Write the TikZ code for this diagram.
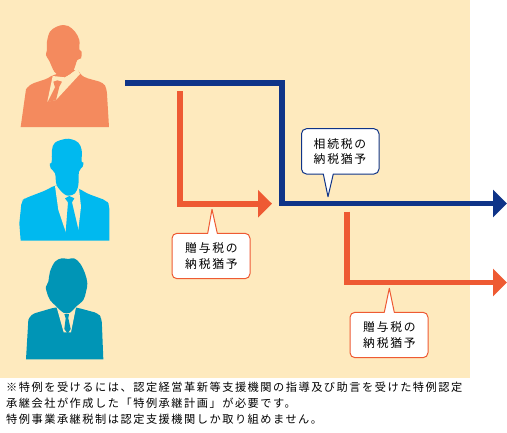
\documentclass[tikz,border=0pt]{standalone}
\usepackage{fontspec}
\usetikzlibrary{arrows.meta}
\setmainfont{Noto Sans CJK JP}
\newfontfamily\noteFont[LetterSpace=13.5]{Noto Sans CJK JP}
\newfontfamily\tagFont[LetterSpace=15]{Noto Sans CJK JP}
\definecolor{bgcream}{HTML}{FEEABE}
\definecolor{navyline}{HTML}{0F3488}
\definecolor{orangeline}{HTML}{EE5A33}
\definecolor{salmon}{HTML}{F48A5E}
\definecolor{skyblue}{HTML}{00B9EF}
\definecolor{tealblue}{HTML}{0095B6}
\definecolor{inktext}{HTML}{000000}
\tikzset{
  navyflow/.style={draw=navyline,line width=5.6pt,-{Triangle[width=27pt,length=14pt]}},
  orangeflow/.style={draw=orangeline,line width=5.6pt,-{Triangle[width=27pt,length=14pt]}},
  bubble/.style={fill=white,line width=1pt,line join=round},
  tagtext/.style={font=\fontsize{11.8}{15.5}\selectfont\tagFont,text=inktext,align=center,inner sep=0pt},
  notetext/.style={font=\fontsize{11.2}{13}\selectfont\noteFont,text=inktext,anchor=west,inner sep=0pt},
}
\begin{document}
\begin{tikzpicture}[x=1pt,y=-1pt]
\useasboundingbox (0,0) rectangle (507,432);
\fill[bgcream] (0,0) rectangle (470,378);
% person 1
\begin{scope}[scale=1/3]
\fill[salmon,rounded corners=4pt] (78,268) -- (90,253) -- (145,235) -- (158,225) -- (232,207) -- (240,222) -- (252,232) -- (310,248) -- (320,265) [sharp corners] -- (327,381) -- (62,381) -- cycle;
\fill[bgcream] (158,228) -- (142,305) -- (168,300) -- (240,222) -- (232,207) -- (195,232) -- cycle;
\fill[salmon] plot[smooth cycle,tension=.6] coordinates {(190,75) (170,80) (150,95) (141,125) (141,150) (138,165) (148,183) (163,215) (180,228) (200,228) (220,212) (232,180) (243,175) (245,155) (238,148) (238,120) (225,95) (205,78)};
\fill[salmon] (160,245) -- (172,241) -- (186,245) -- (178,260) -- (168,300) -- (143,306) -- (165,262) -- cycle;
\end{scope}
% person 2
\begin{scope}[shift={(0,130)},scale=1/3]
\fill[skyblue,rounded corners=4pt] (58,280) -- (65,212) -- (75,205) -- (140,180) -- (165,165) -- (237,175) -- (260,190) -- (320,212) -- (328,225) [sharp corners] -- (328,332) -- (62,332) -- cycle;
\fill[bgcream] (165,168) -- (175,240) -- (198,308) -- (235,300) -- (243,230) -- (237,175) -- cycle;
\fill[skyblue] plot[smooth cycle,tension=.6] coordinates {(195,27) (165,38) (156,60) (155,97) (150,100) (152,115) (165,130) (170,165) (190,190) (205,197) (225,190) (235,165) (237,125) (248,110) (250,97) (245,95) (245,60) (235,38) (215,28)};
\fill[skyblue] (195,205) -- (208,198) -- (223,205) -- (216,217) -- (236,302) -- (236,320) -- (197,320) -- (197,306) -- (204,217) -- cycle;
\end{scope}
% person 3
\begin{scope}[shift={(0,245)},scale=1/3]
\fill[tealblue,rounded corners=4pt] (85,225) -- (93,208) -- (165,187) -- (228,187) -- (295,205) -- (305,220) [sharp corners] -- (310,343) -- (78,343) -- cycle;
\fill[bgcream] (170,187) -- (191,262) -- (213,262) -- (228,187) -- cycle;
\fill[tealblue] plot[smooth cycle,tension=.6] coordinates {(185,40) (165,50) (150,80) (145,110) (138,125) (140,140) (150,165) (170,185) (190,203) (210,203) (228,185) (250,165) (258,140) (262,115) (255,85) (240,55) (222,40) (205,42)};
\fill[tealblue] (193,207) -- (207,207) -- (205,220) -- (212,252) -- (203,266) -- (193,252) -- (197,220) -- cycle;
\end{scope}
% flows
\coordinate (navystart) at (125,83);
\coordinate (navybendA) at (282,83);
\coordinate (navybendB) at (282,203.5);
\coordinate (navyend) at (507,203.5);
\coordinate (orangeAstart) at (180,91);
\coordinate (orangeAbend) at (180,203.7);
\coordinate (orangeAend) at (272,203.7);
\coordinate (orangeBstart) at (347,211.7);
\coordinate (orangeBbend) at (347,282.5);
\coordinate (orangeBend) at (507,282.5);
\draw[navyflow,line join=miter] (navystart) -- (navybendA) -- (navybendB) -- (navyend);
\draw[orangeflow,line join=miter] (orangeAstart) -- (orangeAbend) -- (orangeAend);
\draw[orangeflow,line join=miter] (orangeBstart) -- (orangeBbend) -- (orangeBend);
% bubbles
\draw[bubble,draw=navyline]
  (306.5,128.7) -- (374,128.7) arc[start angle=-90,end angle=0,radius=5] -- (379,169) arc[start angle=0,end angle=90,radius=5]
  -- (333.3,174) -- (328,196.7) -- (323.3,174) -- (306.5,174) arc[start angle=90,end angle=180,radius=5] -- (301.5,133.7) arc[start angle=180,end angle=270,radius=5] -- cycle;
\node[tagtext] (tagA) at (340,151.5) {相続税の\\納税猶予};
\draw[bubble,draw=orangeline]
  (177,233.3) -- (207.7,233.3) -- (212,209.3) -- (217.3,233.3) -- (245,233.3) arc[start angle=-90,end angle=0,radius=5] -- (250,273.7) arc[start angle=0,end angle=90,radius=5]
  -- (177,278.7) arc[start angle=90,end angle=180,radius=5] -- (172,238.3) arc[start angle=180,end angle=270,radius=5] -- cycle;
\node[tagtext] (tagB) at (211.5,256) {贈与税の\\納税猶予};
\draw[bubble,draw=orangeline]
  (355,312.3) -- (384.3,312.3) -- (389.3,288.3) -- (394.3,312.3) -- (423,312.3) arc[start angle=-90,end angle=0,radius=5] -- (428,352.7) arc[start angle=0,end angle=90,radius=5]
  -- (355,357.7) arc[start angle=90,end angle=180,radius=5] -- (350,317.3) arc[start angle=180,end angle=270,radius=5] -- cycle;
\node[tagtext] (tagC) at (389.5,335) {贈与税の\\納税猶予};
% note
\node[notetext] (noteA) at (6,387) {※特例を受けるには、認定経営革新等支援機関の指導及び助言を受けた特例認定};
\node[notetext] (noteB) at (6,403) {承継会社が作成した「特例承継計画」が必要です。};
\node[notetext] (noteC) at (6,419) {特例事業承継税制は認定支援機関しか取り組めません。};
\end{tikzpicture}
\end{document}
